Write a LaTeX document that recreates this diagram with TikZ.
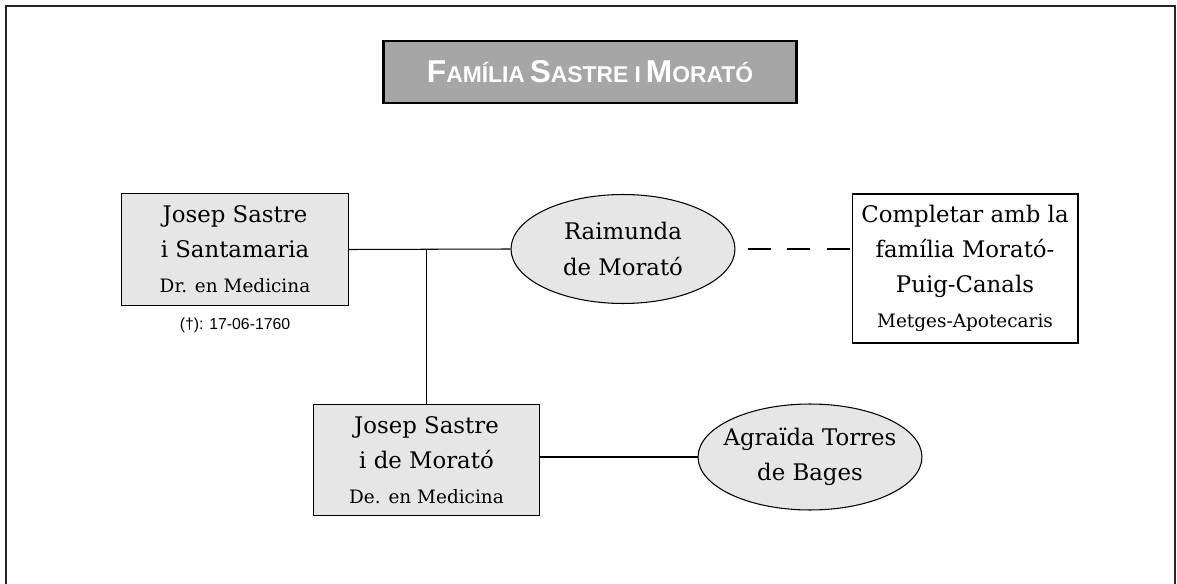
\documentclass[tikz,border=0pt]{standalone}
\usepackage{fontspec}
\setmainfont{DejaVu Serif}
\setsansfont{Liberation Sans}
\usetikzlibrary{shapes.geometric}
\definecolor{titlegray}{HTML}{A6A6A6}
\definecolor{boxgray}{HTML}{E6E6E6}
\newcommand{\bigsc}[2]{{\fontsize{18}{20}\selectfont #1}{\fontsize{13}{20}\selectfont #2}}
\begin{document}
\begin{tikzpicture}[x=0.02cm, y=-0.02cm, line width=0.6pt,
  every node/.style={font=\fontsize{13}{20}\selectfont},
  person/.style={draw, fill=boxgray, align=center, minimum width=4.53cm, minimum height=2.23cm, inner sep=0pt},
  spouse/.style={draw, ellipse, fill=boxgray, align=center, minimum width=4.48cm, minimum height=2.18cm, inner sep=0pt},
  note/.style={draw, fill=white, align=center, minimum width=4.52cm, minimum height=2.98cm, inner sep=0pt}]
  \useasboundingbox (0,0) rectangle (1177,584);
  % frame, open at the bottom
  \draw[line width=1pt, black!85] (6,590) -- (6,6) -- (1175,6) -- (1175,590);
  % title
  \node[draw, line width=1.6pt, fill=titlegray, text=white, minimum width=8.26cm, minimum height=1.24cm,
    font=\sffamily\bfseries] (title) at (590,72)
    {\bigsc{F}{AMÍLIA} \bigsc{S}{ASTRE I} \bigsc{M}{ORATÓ}};
  % persons
  \node[person] (js1) at (235,249.5) {Josep Sastre\\i Santamaria\\{\fontsize{10.5}{12}\selectfont Dr. en Medicina}};
  \node[font=\sffamily\fontsize{9}{11}\selectfont] (died) at (235,325) {(†): 17-06-1760};
  \node[spouse] (rai) at (623,249) {Raimunda\\de Morató};
  \node[note] (fam) at (965,268.5) {Completar amb la\\família Morató-\\Puig-Canals\\{\fontsize{10.5}{12}\selectfont Metges-Apotecaris}};
  \node[person] (js2) at (426.5,460) {Josep Sastre\\i de Morató\\{\fontsize{10.5}{12}\selectfont De. en Medicina}};
  \node[spouse, minimum height=2.12cm, inner xsep=-5pt] (agr) at (810,457) {Agraïda Torres\\de Bages};
  % connectors
  \draw (js1.east) -- (rai.west);
  \draw (js2.north) -- (js2.north |- js1.east);
  \draw[dash pattern=on 13pt off 9.5pt, shorten <=7pt] (rai.east) -- (rai.east -| fam.west);
  \draw (agr.west -| js2.east) -- (agr.west);
\end{tikzpicture}
\end{document}
